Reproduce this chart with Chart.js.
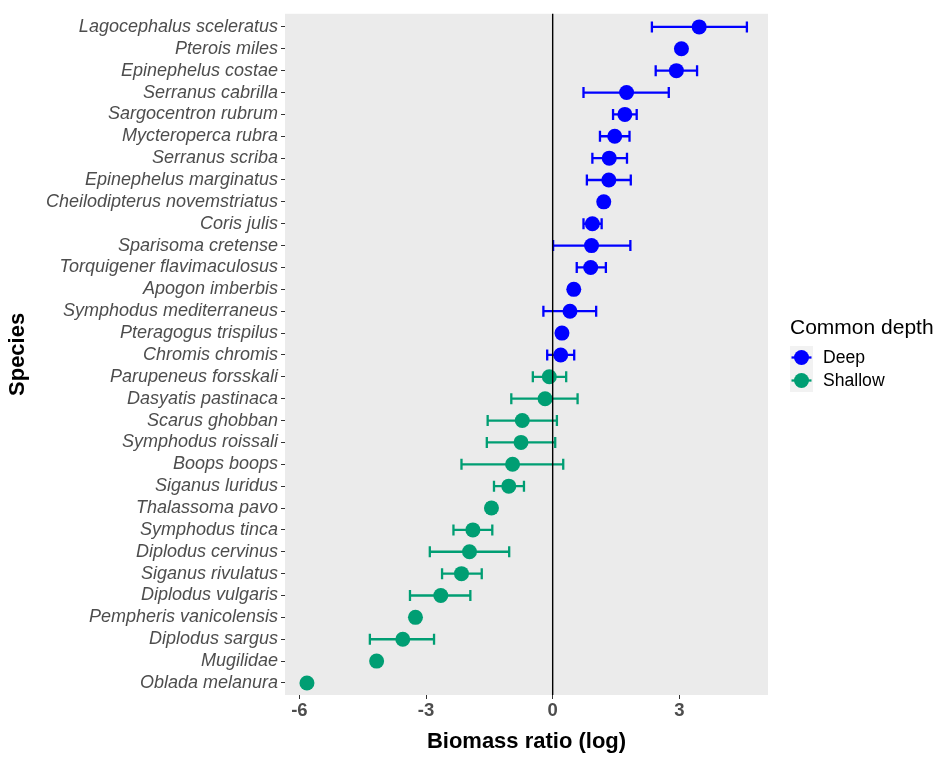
<!DOCTYPE html>
<html>
<head>
<meta charset="utf-8">
<title>Biomass ratio by species</title>
<script src="https://cdn.jsdelivr.net/npm/chart.js@4.4.1/dist/chart.umd.min.js"></script>
<style>
  html, body { margin: 0; padding: 0; background: #ffffff; }
  #wrap { width: 934px; height: 757px; }
</style>
</head>
<body>
<div id="wrap"><canvas id="c" width="934" height="757"></canvas></div>
<script>
// Species, top to bottom
const species = [
  'Lagocephalus sceleratus', 'Pterois miles', 'Epinephelus costae', 'Serranus cabrilla',
  'Sargocentron rubrum', 'Mycteroperca rubra', 'Serranus scriba', 'Epinephelus marginatus',
  'Cheilodipterus novemstriatus', 'Coris julis', 'Sparisoma cretense', 'Torquigener flavimaculosus',
  'Apogon imberbis', 'Symphodus mediterraneus', 'Pteragogus trispilus', 'Chromis chromis',
  'Parupeneus forsskali', 'Dasyatis pastinaca', 'Scarus ghobban', 'Symphodus roissali',
  'Boops boops', 'Siganus luridus', 'Thalassoma pavo', 'Symphodus tinca',
  'Diplodus cervinus', 'Siganus rivulatus', 'Diplodus vulgaris', 'Pempheris vanicolensis',
  'Diplodus sargus', 'Mugilidae', 'Oblada melanura'
];

// Log biomass ratio (point estimate)
const ratio = [
  3.47, 3.05, 2.93, 1.75, 1.71, 1.47, 1.34, 1.33,
  1.21, 0.94, 0.92, 0.90, 0.50, 0.41, 0.22, 0.19,
  -0.08, -0.18, -0.72, -0.75, -0.95, -1.04, -1.45, -1.89,
  -1.97, -2.16, -2.65, -3.25, -3.55, -4.17, -5.82
];

// Interval bounds (null where no interval is shown)
const lower = [
  2.35, null, 2.44, 0.73, 1.43, 1.12, 0.94, 0.81,
  null, 0.73, 0.01, 0.57, null, -0.22, null, -0.13,
  -0.47, -0.98, -1.54, -1.56, -2.16, -1.39, -1.55, -2.35,
  -2.91, -2.62, -3.38, null, -4.33, null, null
];
const upper = [
  4.60, null, 3.42, 2.75, 1.99, 1.82, 1.76, 1.85,
  null, 1.16, 1.84, 1.26, null, 1.03, null, 0.51,
  0.32, 0.59, 0.10, 0.06, 0.25, -0.68, -1.35, -1.43,
  -1.03, -1.68, -1.95, null, -2.81, null, null
];

// Common depth group of each species
const depth = [
  'Deep', 'Deep', 'Deep', 'Deep', 'Deep', 'Deep', 'Deep', 'Deep',
  'Deep', 'Deep', 'Deep', 'Deep', 'Deep', 'Deep', 'Deep', 'Deep',
  'Shallow', 'Shallow', 'Shallow', 'Shallow', 'Shallow', 'Shallow', 'Shallow', 'Shallow',
  'Shallow', 'Shallow', 'Shallow', 'Shallow', 'Shallow', 'Shallow', 'Shallow'
];

const groups = ['Deep', 'Shallow'];
const groupColors = { Deep: '#0000FF', Shallow: '#009E73' };

const xTicks = [-6, -3, 0, 3];
const xTickLabels = ['-6', '-3', '0', '3'];

const FONT = '"Liberation Sans", Arial, Helvetica, sans-serif';

function pointsFor(group) {
  const out = [];
  species.forEach((s, i) => {
    if (depth[i] === group) {
      out.push({ x: ratio[i], y: i, lo: lower[i], hi: upper[i], name: s });
    }
  });
  return out;
}

const datasets = groups.map(g => ({
  label: g,
  data: pointsFor(g),
  backgroundColor: groupColors[g],
  borderColor: groupColors[g],
  pointRadius: 7.5,
  pointHoverRadius: 7.5,
  pointBorderWidth: 0,
  showLine: false
}));

// Panel background, error bars, zero line and legend
const decor = {
  id: 'decor',
  beforeDraw(chart) {
    const { ctx, chartArea: a } = chart;
    ctx.save();
    ctx.fillStyle = '#EBEBEB';
    ctx.fillRect(a.left, a.top, a.right - a.left, a.bottom - a.top);
    ctx.restore();
  },
  beforeDatasetsDraw(chart) {
    const { ctx, scales: { x, y } } = chart;
    ctx.save();
    ctx.lineWidth = 2.3;
    ctx.lineCap = 'butt';
    chart.data.datasets.forEach(ds => {
      ctx.strokeStyle = ds.borderColor;
      ds.data.forEach(p => {
        if (p.lo == null || p.hi == null) return;
        const py = y.getPixelForValue(p.y);
        const x0 = x.getPixelForValue(p.lo);
        const x1 = x.getPixelForValue(p.hi);
        const h = 5.5;
        ctx.beginPath();
        ctx.moveTo(x0, py); ctx.lineTo(x1, py);
        ctx.moveTo(x0, py - h); ctx.lineTo(x0, py + h);
        ctx.moveTo(x1, py - h); ctx.lineTo(x1, py + h);
        ctx.stroke();
      });
    });
    ctx.restore();
  },
  afterDatasetsDraw(chart) {
    const { ctx, chartArea: a, scales: { x } } = chart;
    const zx = x.getPixelForValue(0);
    ctx.save();
    ctx.strokeStyle = '#000000';
    ctx.lineWidth = 1.4;
    ctx.beginPath();
    ctx.moveTo(zx, a.top); ctx.lineTo(zx, a.bottom);
    ctx.stroke();
    ctx.restore();
  },
  afterDraw(chart) {
    const { ctx } = chart;
    ctx.save();
    ctx.fillStyle = '#000000';
    ctx.textBaseline = 'middle';
    ctx.textAlign = 'left';
    ctx.font = '21px ' + FONT;
    ctx.fillText('Common depth', 790, 328);
    const keyX = 790, keyW = 23, keyH = 23, keyTop = 346;
    chart.data.datasets.forEach((ds, i) => {
      const top = keyTop + i * keyH;
      const cy = top + keyH / 2;
      ctx.fillStyle = '#F2F2F2';
      ctx.fillRect(keyX, top, keyW, keyH);
      ctx.strokeStyle = ds.borderColor;
      ctx.lineWidth = 2.3;
      ctx.beginPath();
      ctx.moveTo(keyX + 1.5, cy); ctx.lineTo(keyX + keyW - 1.5, cy);
      ctx.stroke();
      ctx.fillStyle = ds.backgroundColor;
      ctx.beginPath();
      ctx.arc(keyX + keyW / 2, cy, 7.5, 0, Math.PI * 2);
      ctx.fill();
      ctx.fillStyle = '#000000';
      ctx.font = '17.6px ' + FONT;
      ctx.fillText(ds.label, 823, cy + 1);
    });
    ctx.restore();
  }
};

new Chart(document.getElementById('c'), {
  type: 'scatter',
  data: { datasets },
  options: {
    responsive: false,
    animation: false,
    devicePixelRatio: 1,
    layout: { padding: { top: 12, right: 166, left: 0, bottom: 0 } },
    plugins: {
      legend: { display: false },
      tooltip: { enabled: false }
    },
    scales: {
      x: {
        type: 'linear',
        min: -6.34,
        max: 5.1,
        afterBuildTicks(scale) { scale.ticks = xTicks.map(v => ({ value: v })); },
        afterFit(scale) { scale.height = 62; },
        ticks: {
          callback: v => xTickLabels[xTicks.indexOf(v)],
          color: '#4D4D4D',
          font: { family: FONT, size: 18.5, weight: 'bold' },
          padding: 1,
          maxRotation: 0
        },
        grid: { display: true, drawOnChartArea: false, drawTicks: true, tickLength: 4, color: '#333333', lineWidth: 1 },
        border: { display: false },
        title: {
          display: true,
          text: 'Biomass ratio (log)',
          color: '#000000',
          font: { family: FONT, size: 22, weight: 'bold' },
          padding: { top: 0, bottom: 2 }
        }
      },
      y: {
        type: 'linear',
        min: -0.6,
        max: 30.55,
        reverse: true,
        afterBuildTicks(scale) { scale.ticks = species.map((s, i) => ({ value: i })); },
        afterFit(scale) { scale.width = 285; },
        ticks: {
          autoSkip: false,
          callback: v => species[v],
          color: '#4D4D4D',
          font: { family: FONT, size: 18, style: 'italic' },
          padding: 3
        },
        grid: { display: true, drawOnChartArea: false, drawTicks: true, tickLength: 4, color: '#333333', lineWidth: 1 },
        border: { display: false },
        title: {
          display: true,
          text: 'Species',
          color: '#000000',
          font: { family: FONT, size: 22, weight: 'bold' },
          padding: { top: 5, bottom: 0 }
        }
      }
    }
  },
  plugins: [decor]
});
</script>
</body>
</html>
